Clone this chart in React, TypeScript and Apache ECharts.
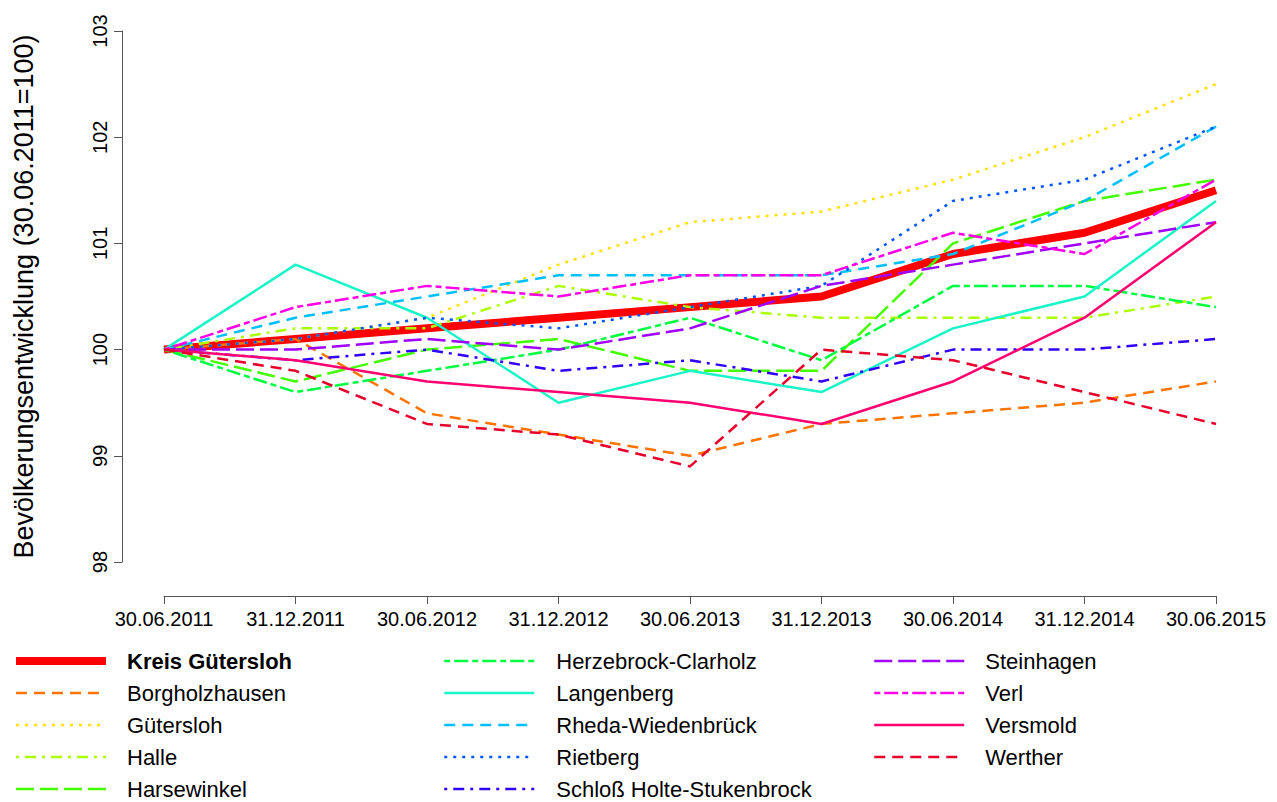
import React, { useEffect, useRef } from "react";
import * as echarts from "echarts";

const dates = ["30.06.2011", "31.12.2011", "30.06.2012", "31.12.2012", "30.06.2013", "31.12.2013", "30.06.2014", "31.12.2014", "30.06.2015"];

const names = [
  "Kreis Gütersloh", "Borgholzhausen", "Gütersloh", "Halle", "Harsewinkel",
  "Herzebrock-Clarholz", "Langenberg", "Rheda-Wiedenbrück", "Rietberg",
  "Schloß Holte-Stukenbrock", "Steinhagen", "Verl", "Versmold", "Werther",
];

const kreisGuetersloh = [100, 100.1, 100.2, 100.3, 100.4, 100.5, 100.9, 101.1, 101.5];
const borgholzhausen = [100, 100.1, 99.4, 99.2, 99.0, 99.3, 99.4, 99.5, 99.7];
const guetersloh = [100, 100.1, 100.3, 100.8, 101.2, 101.3, 101.6, 102.0, 102.5];
const halle = [100, 100.2, 100.2, 100.6, 100.4, 100.3, 100.3, 100.3, 100.5];
const harsewinkel = [100, 99.7, 100.0, 100.1, 99.8, 99.8, 101.0, 101.4, 101.6];
const herzebrock = [100, 99.6, 99.8, 100.0, 100.3, 99.9, 100.6, 100.6, 100.4];
const langenberg = [100, 100.8, 100.3, 99.5, 99.8, 99.6, 100.2, 100.5, 101.4];
const rheda = [100, 100.3, 100.5, 100.7, 100.7, 100.7, 100.9, 101.4, 102.1];
const rietberg = [100, 100.1, 100.3, 100.2, 100.4, 100.6, 101.4, 101.6, 102.1];
const schlossHolte = [100, 99.9, 100.0, 99.8, 99.9, 99.7, 100.0, 100.0, 100.1];
const steinhagen = [100, 100.0, 100.1, 100.0, 100.2, 100.6, 100.8, 101.0, 101.2];
const verl = [100, 100.4, 100.6, 100.5, 100.7, 100.7, 101.1, 100.9, 101.6];
const versmold = [100, 99.9, 99.7, 99.6, 99.5, 99.3, 99.7, 100.3, 101.2];
const werther = [100, 99.8, 99.3, 99.2, 98.9, 100.0, 99.9, 99.6, 99.3];

const values = [
  kreisGuetersloh, borgholzhausen, guetersloh, halle, harsewinkel, herzebrock,
  langenberg, rheda, rietberg, schlossHolte, steinhagen, verl, versmold, werther,
];

const colors = [
  "#FF0000", "#FF7300", "#FFE000", "#AAFF00", "#44FF00", "#00FF40", "#1AF5C8",
  "#00BFFF", "#0055FF", "#3000FF", "#A000FF", "#FF00E6", "#FF0070", "#E6002B",
];

const DASHED = [11, 7];
const DOTTED = [3, 6];
const DOTDASH = [3, 6, 11, 6];
const LONGDASH = [18, 6];
const TWODASH = [6, 4, 14, 4];
const lineTypes: any[] = [
  "solid", DASHED, DOTTED, DOTDASH, LONGDASH, TWODASH,
  "solid", DASHED, DOTTED, DOTDASH, LONGDASH, TWODASH,
  "solid", DASHED,
];
const lineWidths = names.map((_, i) => (i === 0 ? 8 : 2.5));

const FONT = "'Liberation Sans', Arial, sans-serif";

export default function App() {
  const ref = useRef<HTMLDivElement>(null);
  useEffect(() => {
    if (!ref.current) return;
    const chart = echarts.init(ref.current, null, { renderer: "svg" });
    const series = names.map((n, i) => ({
      name: n,
      type: "line",
      data: values[i],
      symbol: "none",
      lineStyle: {
        color: colors[i],
        width: lineWidths[i],
        type: lineTypes[i],
        cap: "butt",
      },
      itemStyle: { color: colors[i] },
    }));
    const legendData = (from: number, to: number) =>
      names.slice(from, to).map((n) => {
        const i = names.indexOf(n);
        return {
          name: n,
          itemStyle: { opacity: 0 },
          lineStyle: { width: lineWidths[i], type: lineTypes[i], color: colors[i] },
        };
      });
    const legendBase = {
      orient: "vertical",
      top: 645,
      height: 170,
      itemWidth: 90,
      itemHeight: 16,
      itemGap: 10,
      selectedMode: false,
      itemStyle: { opacity: 0 },
      formatter: (name: string) => (name === "Kreis Gütersloh" ? `{b|${name}}` : name),
    };
    const textStyle = (pad: number) => ({
      fontFamily: FONT,
      fontSize: 22,
      color: "#000",
      padding: [0, 0, 0, pad],
      rich: { b: { fontWeight: "bold", fontSize: 22, fontFamily: FONT, color: "#000" } },
    });
    chart.setOption({
      animation: false,
      backgroundColor: "#fff",
      textStyle: { fontFamily: FONT },
      grid: { left: 164, right: 61, top: 31, bottom: 240, containLabel: false },
      xAxis: {
        type: "category",
        data: dates,
        boundaryGap: false,
        offset: 34,
        axisLine: { lineStyle: { color: "#555", width: 1 } },
        axisTick: { length: 8, lineStyle: { color: "#555" } },
        axisLabel: { fontSize: 20, color: "#000", margin: 13, fontFamily: FONT },
        splitLine: { show: false },
      },
      yAxis: {
        type: "value",
        min: 98,
        max: 103,
        interval: 1,
        offset: 42,
        name: "Bevölkerungsentwicklung (30.06.2011=100)",
        nameLocation: "middle",
        nameGap: 85,
        nameRotate: 90,
        nameTextStyle: { fontSize: 27, color: "#000", fontFamily: FONT },
        axisLine: { show: true, lineStyle: { color: "#555", width: 1 } },
        axisTick: { show: true, length: 8, lineStyle: { color: "#555" } },
        axisLabel: { fontSize: 20, color: "#000", rotate: 90, margin: 12, fontFamily: FONT },
        splitLine: { show: false },
      },
      legend: [
        { ...legendBase, left: 7, textStyle: textStyle(16), data: legendData(0, 5) },
        { ...legendBase, left: 438, textStyle: textStyle(17), data: legendData(5, 10) },
        { ...legendBase, left: 868, textStyle: textStyle(16), data: legendData(10, 14) },
      ],
      series,
    });
    return () => chart.dispose();
  }, []);
  return (
    <div
      ref={ref}
      style={{ position: "absolute", left: 0, top: 0, width: 1277, height: 802 }}
    />
  );
}
